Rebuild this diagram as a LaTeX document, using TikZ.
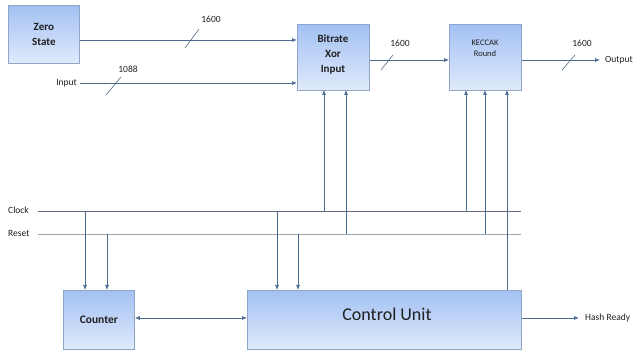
\documentclass[tikz,border=0pt]{standalone}
\usepackage{fontspec}
\setmainfont{Carlito}
\usetikzlibrary{arrows.meta}
\definecolor{lineblue}{HTML}{4A6A94}
\definecolor{clkgray}{HTML}{5F6B7A}
\definecolor{rstgray}{HTML}{9AA5B1}
\definecolor{boxtop}{HTML}{A3C1F3}
\definecolor{boxbot}{HTML}{E0EAFB}
\definecolor{boxborder}{HTML}{8FA6C8}
\definecolor{txt}{HTML}{1F1F1F}
\tikzset{
  blk/.style={draw=boxborder, line width=0.8pt, top color=boxtop, bottom color=boxbot, inner sep=0pt, text=txt, align=center, anchor=north west},
  wire/.style={draw=lineblue, line width=0.7pt},
  arr/.style={wire, -{Latex[length=5pt,width=4pt]}},
  darr/.style={wire, {Latex[length=5pt,width=4pt]}-{Latex[length=5pt,width=4pt]}},
  slash/.style={draw=lineblue!80!black, line width=0.5pt},
  lbl/.style={font=\fontsize{9.5}{11}\selectfont, text=txt, inner sep=1pt},
  boxfont/.style={font=\fontsize{11}{15}\selectfont\bfseries},
}
\begin{document}
\begin{tikzpicture}[x=1pt,y=-1pt]
\useasboundingbox (0,0) rectangle (637,352);
% blocks
\node[blk, minimum width=71pt, minimum height=58pt, boxfont] (zero) at (8,5) {Zero\\State};
\node[blk, minimum width=72pt, minimum height=66pt] (xor) at (297,24) {};
\node[boxfont, text=txt, align=center] at (333,55) {Bitrate\\Xor\\Input};
\node[blk, minimum width=72pt, minimum height=66pt] (kec) at (449,24) {};
\node[font=\fontsize{8.5}{11}\selectfont, text=txt, align=center] at (485,48) {KECCAK\\Round};
\node[blk, minimum width=71pt, minimum height=59pt, font=\fontsize{11.5}{12}\selectfont\bfseries] (cnt) at (63,290) {Counter};
\node[blk, minimum width=274pt, minimum height=59pt] (cu) at (247,290) {};
\node[font=\fontsize{18}{20}\selectfont, text=txt] at (387,314) {Control Unit};
% labels
\node[lbl, anchor=east] (inl) at (78,83) {Input};
\node[lbl, anchor=west] (outl) at (604,60) {Output};
\node[lbl, anchor=west] (hash) at (584,318) {Hash Ready};
\node[lbl, anchor=west] (clk) at (7,210) {Clock};
\node[lbl, anchor=west] (rst) at (7,233) {Reset};
% coordinates
\coordinate (clkS) at (38,211);
\coordinate (clkE) at (521,211);
\coordinate (rstS) at (38,234);
\coordinate (rstE) at (521,234);
\coordinate (outE) at (600,60);
\coordinate (hashE) at (579,318);
% top data path
\draw[arr] (zero.east |- 0,40) -- (xor.west |- 0,40);
\draw[arr] (80,83) -- (xor.west |- 0,83);
\draw[arr] (xor.east |- 0,60) -- (kec.west |- 0,60);
\draw[arr] (kec.east |- 0,60) -- (outE);
% bus slashes and widths
\draw[slash] (185,48) -- (199,29);
\node[lbl] (w1) at (211,19) {1600};
\draw[slash] (106,95) -- (121,77);
\node[lbl] (w2) at (128,69) {1088};
\draw[slash] (381,70) -- (393,55);
\node[lbl] (w3) at (400,43) {1600};
\draw[slash] (562,70) -- (575,55);
\node[lbl] (w4) at (582,43) {1600};
% clock/reset buses
\draw[wire, draw=clkgray] (clkS) -- (clkE);
\draw[wire, draw=rstgray] (rstS) -- (rstE);
% to counter
\draw[arr] (85,211) -- (85,290);
\draw[arr] (107,234) -- (107,290);
% to control unit
\draw[arr] (277,211) -- (277,290);
\draw[arr] (298,234) -- (298,290);
% to xor
\draw[arr] (324,211) -- (324,90);
\draw[arr] (346,234) -- (346,90);
% to keccak
\draw[arr] (466,211) -- (466,90);
\draw[arr] (485,234) -- (485,90);
\draw[arr] (507,290) -- (507,90);
% counter <-> control unit
\draw[darr] (cnt.east |- 0,318) -- (cu.west |- 0,318);
\draw[arr] (cu.east |- 0,318) -- (hashE);
\end{tikzpicture}
\end{document}
